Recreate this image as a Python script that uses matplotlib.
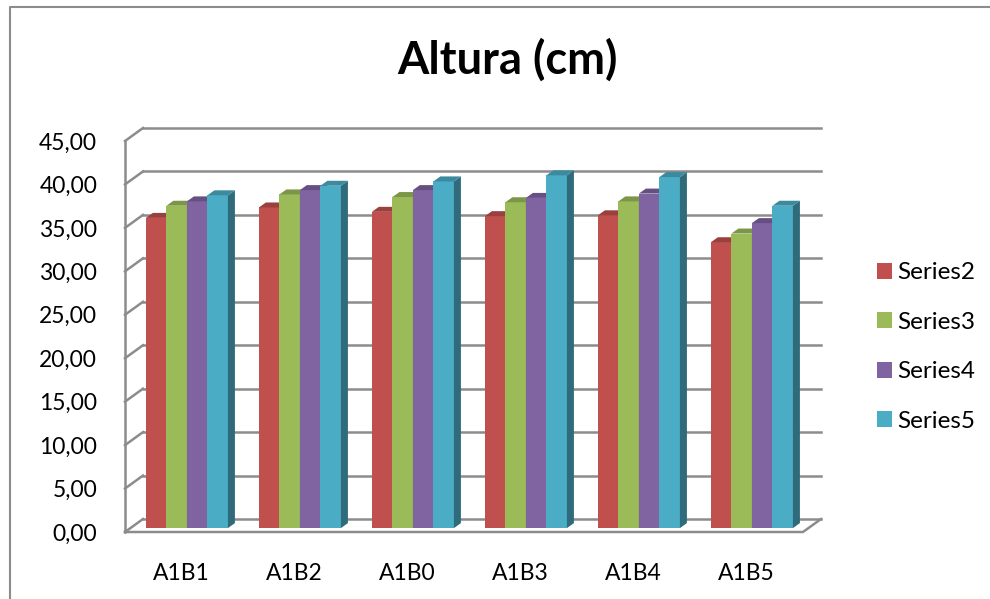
import numpy as np
import matplotlib
matplotlib.use("Agg")
import matplotlib.pyplot as plt
from matplotlib.patches import Polygon, Patch
from matplotlib.lines import Line2D
from matplotlib.colors import to_rgb

plt.rcParams['font.family'] = ['Lato', 'DejaVu Sans']

categories = ['A1B1', 'A1B2', 'A1B0', 'A1B3', 'A1B4', 'A1B5']
series_names = ['Series2', 'Series3', 'Series4', 'Series5']
series2 = [35.7, 36.9, 36.4, 35.9, 36.0, 32.9]
series3 = [37.1, 38.4, 38.1, 37.5, 37.6, 33.9]
series4 = [37.6, 38.9, 38.9, 38.0, 38.5, 35.1]
series5 = [38.3, 39.4, 39.9, 40.6, 40.4, 37.1]
colors = ['#C0504D', '#9BBB59', '#8064A2', '#4BACC6']
yticks = np.arange(0, 46, 5)

W, H = 990, 599
fig = plt.figure(figsize=(W / 100, H / 100), dpi=100)

# front frame of the 3d box, in pixels
left, right, bottom, top = 125, 803, 532, 141
ax = fig.add_axes([left / W, 1 - bottom / H, (right - left) / W, (bottom - top) / H])
ax.set_xlim(-0.5, len(categories) - 0.5)
ax.set_ylim(0, 45)
for s in ax.spines.values():
    s.set_visible(False)

px_x = (right - left) / len(categories)
px_y = (bottom - top) / 45.0
# depth of the box and of each bar, in data units
DX, DY = 18 / px_x, 13 / px_y
bdx, bdy = 7 / px_x, 5 / px_y
plane = 0.3
grid_c = '#8C8C8C'
x0, x1 = -0.5, len(categories) - 0.5

# back wall gridlines and left wall
for v in yticks:
    ax.plot([x0 + DX, x1 + DX], [v + DY, v + DY], color=grid_c, lw=1.8, clip_on=False, zorder=1)
    ax.plot([x0, x0 + DX], [v, v + DY], color=grid_c, lw=1.8, clip_on=False, zorder=1)
ax.plot([x0, x0], [0, 45], color=grid_c, lw=1.8, clip_on=False, zorder=1)
# floor
ax.plot([x0, x1, x1 + DX], [0, 0, DY], color=grid_c, lw=1.8, clip_on=False, zorder=1)


def shade(c, k):
    r, g, b = to_rgb(c)
    return (r * k, g * k, b * k)


data = [series2, series3, series4, series5]
bw = 0.1815
base = plane * DY
shift = plane * DX
for i in range(len(categories)):
    start = i + shift - 2 * bw
    for j in range(len(data)):
        v = data[j][i]
        xa = start + j * bw
        xb = xa + bw
        z = 2 + i * 10 + j
        ax.add_patch(Polygon([(xa, base), (xb, base), (xb, base + v), (xa, base + v)],
                             closed=True, facecolor=colors[j], edgecolor='none',
                             zorder=z, clip_on=False))
        ax.add_patch(Polygon([(xb, base), (xb + bdx, base + bdy), (xb + bdx, base + v + bdy), (xb, base + v)],
                             closed=True, facecolor=shade(colors[j], 0.62), edgecolor='none',
                             zorder=z, clip_on=False))
        ax.add_patch(Polygon([(xa, base + v), (xb, base + v), (xb + bdx, base + v + bdy), (xa + bdx, base + v + bdy)],
                             closed=True, facecolor=shade(colors[j], 0.8), edgecolor='none',
                             zorder=z, clip_on=False))

ax.set_xticks(range(len(categories)))
ax.set_xticklabels(categories)
ax.set_yticks(yticks)
ax.set_yticklabels(['%d,00' % v for v in yticks])
ax.tick_params(axis='x', length=0, pad=22, labelsize=16.5)
ax.tick_params(axis='y', length=0, pad=20, labelsize=16.5)

fig.text(507 / W, 1 - 60 / H, 'Altura (cm)', ha='center', va='center',
         fontsize=32.5, fontweight='bold')

handles = [Patch(facecolor=c, edgecolor='none') for c in colors]
fig.legend(handles, series_names, loc='center left', bbox_to_anchor=(855 / W, 1 - 347 / H),
           frameon=False, fontsize=17.5, handlelength=0.62, handleheight=0.62,
           handletextpad=0.2, labelspacing=1.17)

# chart area border
fig.add_artist(Line2D([10 / W, 10 / W, 1.0], [0.0, 1 - 7 / H, 1 - 7 / H],
                      transform=fig.transFigure, color='#8C8C8C', lw=1.5))

fig.savefig('out.png', dpi=100)
